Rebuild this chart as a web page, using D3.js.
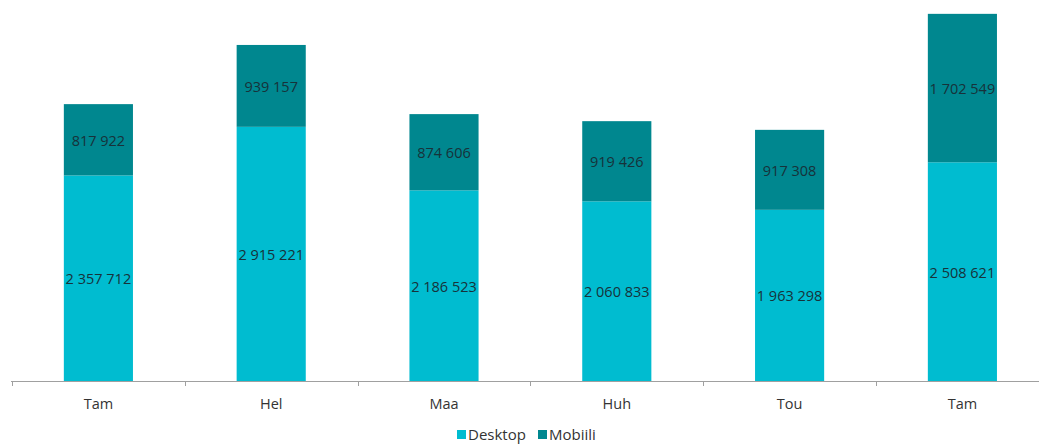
<!DOCTYPE html>
<html>
<head>
<meta charset="utf-8">
<script src="https://cdn.jsdelivr.net/npm/d3@7"></script>
<style>
  body { margin: 0; background: #fff; }
  text { font-family: "Open Sans", sans-serif; }
</style>
</head>
<body>
<script>
var width = 1039;
var height = 445;

var categories = ["Tam", "Hel", "Maa", "Huh", "Tou", "Tam"];
var desktop = [2357712, 2915221, 2186523, 2060833, 1963298, 2508621];
var mobiili = [817922, 939157, 874606, 919426, 917308, 1702549];
var seriesNames = ["Desktop", "Mobiili"];
var colors = ["#00bcd0", "#00878f"];

var svg = d3.select("body")
            .append("svg")
            .attr("width", width)
            .attr("height", height);

// bands run past the right edge, like the original crop
var x = d3.scaleBand()
          .domain(d3.range(categories.length))
          .range([12, 12 + 172.8 * categories.length])
          .paddingInner(0.6)
          .paddingOuter(0.3);
var xTicks = d3.scaleBand()
          .domain(d3.range(categories.length))
          .range([12, 12 + 172.8 * categories.length]);

var y = d3.scaleLinear()
          .domain([0, 4370000])
          .range([381, 0]);

var fmt = function(v) {
  return d3.format(",")(v).replace(/,/g, " ");
};

var rows = categories.map(function(c, i) {
  return { i: i, desktop: desktop[i], mobiili: mobiili[i] };
});
var stacked = d3.stack().keys(["desktop", "mobiili"])(rows);

var layer = svg.selectAll("g.layer")
  .data(stacked)
  .enter().append("g")
  .attr("fill", function(d, k) { return colors[k]; });

layer.selectAll("rect")
  .data(function(d) { return d; })
  .enter().append("rect")
  .attr("x", function(d) { return x(d.data.i); })
  .attr("width", x.bandwidth())
  .attr("y", function(d) { return y(d[1]); })
  .attr("height", function(d) { return y(d[0]) - y(d[1]); });

layer.selectAll("text")
  .data(function(d) { return d; })
  .enter().append("text")
  .attr("x", function(d) { return x(d.data.i) + x.bandwidth() / 2; })
  .attr("y", function(d) { return (y(d[0]) + y(d[1])) / 2 + 1; })
  .attr("dy", "0.35em")
  .attr("text-anchor", "middle")
  .attr("fill", "#17323a")
  .style("font-size", "14.5px")
  .text(function(d) { return fmt(d[1] - d[0]); });

// x axis
var axis = svg.append("g");
axis.append("line")
  .attr("x1", 11).attr("x2", width)
  .attr("y1", 381.5).attr("y2", 381.5)
  .attr("stroke", "#a0a0a0");
axis.selectAll("line.tick")
  .data(d3.range(categories.length))
  .enter().append("line")
  .attr("x1", function(i) { return Math.round(xTicks(i)) + 0.5; })
  .attr("x2", function(i) { return Math.round(xTicks(i)) + 0.5; })
  .attr("y1", 381).attr("y2", 386)
  .attr("stroke", "#a0a0a0");
axis.selectAll("text")
  .data(categories)
  .enter().append("text")
  .attr("x", function(d, i) { return xTicks(i) + xTicks.bandwidth() / 2; })
  .attr("y", 409)
  .attr("text-anchor", "middle")
  .attr("fill", "#333")
  .style("font-size", "14.5px")
  .text(function(d) { return d; });

// legend (sits right at the bottom edge)
var legend = svg.append("g");
var legendX = [457, 538];
seriesNames.forEach(function(name, k) {
  legend.append("rect")
    .attr("x", legendX[k]).attr("y", 430)
    .attr("width", 9).attr("height", 9)
    .attr("fill", colors[k]);
  legend.append("text")
    .attr("x", legendX[k] + 11).attr("y", 439.5)
    .attr("fill", "#333")
    .style("font-size", "15px")
    .text(name);
});
</script>
</body>
</html>
